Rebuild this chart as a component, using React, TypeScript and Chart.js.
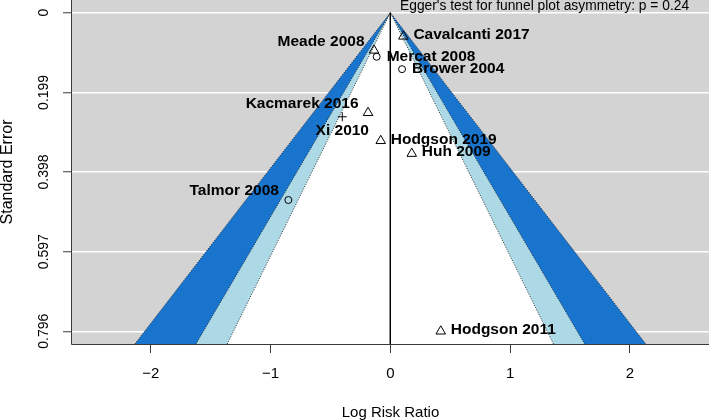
import React, { useEffect, useRef } from "react";
import { Chart, registerables } from "chart.js";

Chart.register(...registerables);

// ---- data ----
const studies = [
  "Cavalcanti 2017",
  "Meade 2008",
  "Mercat 2008",
  "Brower 2004",
  "Kacmarek 2016",
  "Xi 2010",
  "Hodgson 2019",
  "Huh 2009",
  "Talmor 2008",
  "Hodgson 2011",
];
const logRR = [0.109, -0.136, -0.114, 0.098, -0.186, -0.401, -0.08, 0.179, -0.851, 0.421];
const stdErr = [0.059, 0.094, 0.11, 0.141, 0.25, 0.26, 0.32, 0.352, 0.468, 0.796];
const markers = ["triangle", "triangle", "circle", "circle", "triangle", "cross", "triangle", "triangle", "circle", "triangle"];
const labelSide = ["right", "left", "right", "right", "left", "below", "right", "right", "left", "right"];

const xTickValues = [-2, -1, 0, 1, 2];
const yTickValues = [0, 0.199, 0.398, 0.597, 0.796];
const contourZ = [2.576, 1.96, 1.645]; // 99%, 95%, 90%
const contourColors = ["#1874CD", "#ADD8E6", "#FFFFFF"];
const refLine = 0;
const eggerText = "Egger's test for funnel plot asymmetry: p = 0.24";
const xTitle = "Log Risk Ratio";
const yTitle = "Standard Error";

const X_MIN = -2.657;
const X_MAX = 2.66;
const Y_MIN = -0.0318;
const Y_MAX = 0.8278;

const FONT = '"Liberation Sans", Arial, Helvetica, sans-serif';

const markerRadius: Record<string, number> = { triangle: 5.5, circle: 3.5, cross: 4.5 };

const fmtX = (v: number) => (v < 0 ? "\u2212" + Math.abs(v) : String(v));

const bgPlugin = {
  id: "bgPlugin",
  beforeDraw(chart: any) {
    const { ctx, chartArea } = chart;
    const { left, top, right, bottom } = chartArea;
    ctx.save();
    ctx.fillStyle = "#D3D3D3";
    ctx.fillRect(left, top, right - left, bottom - top);
    ctx.restore();
  },
};

const overlayPlugin = {
  id: "overlayPlugin",
  afterDatasetsDraw(chart: any) {
    const { ctx, chartArea, scales } = chart;
    const { left, top, right, bottom } = chartArea;
    const ys = scales.y;
    ctx.save();
    // axis lines
    ctx.strokeStyle = "#3a3a3a";
    ctx.lineWidth = 1;
    ctx.beginPath();
    ctx.moveTo(left - 0.5, top);
    ctx.lineTo(left - 0.5, bottom + 0.5);
    ctx.lineTo(right, bottom + 0.5);
    ctx.stroke();

    // y tick labels (rotated, parallel to axis)
    ctx.fillStyle = "#000";
    ctx.font = `14px ${FONT}`;
    ctx.textAlign = "center";
    ctx.textBaseline = "middle";
    yTickValues.forEach((v) => {
      const py = ys.getPixelForValue(v);
      ctx.save();
      ctx.translate(44, py);
      ctx.rotate(-Math.PI / 2);
      ctx.fillText(String(v), 0, 0);
      ctx.restore();
    });

    // study labels
    const meta = chart.getDatasetMeta(chart.data.datasets.length - 1);
    ctx.font = `bold 15.5px ${FONT}`;
    ctx.fillStyle = "#000";
    meta.data.forEach((pt: any, i: number) => {
      const side = labelSide[i];
      const tri = markers[i] === "triangle" ? -1.5 : 0;
      if (side === "right") {
        ctx.textAlign = "left";
        ctx.textBaseline = "middle";
        ctx.fillText(studies[i], pt.x + 10, pt.y + tri);
      } else if (side === "left") {
        ctx.textAlign = "right";
        ctx.textBaseline = "middle";
        ctx.fillText(studies[i], pt.x - 9.5, pt.y - 9);
      } else {
        ctx.textAlign = "center";
        ctx.textBaseline = "middle";
        ctx.fillText(studies[i], pt.x, pt.y + 13.5);
      }
    });

    // Egger's test annotation
    ctx.font = `13.8px ${FONT}`;
    ctx.textAlign = "left";
    ctx.textBaseline = "alphabetic";
    ctx.fillText(eggerText, 400, 10);
    ctx.restore();
  },
};

export default function App() {
  const canvasRef = useRef<HTMLCanvasElement | null>(null);

  useEffect(() => {
    if (!canvasRef.current) return;

    const contourSets = contourZ.map((z, i) => ({
      type: "scatter" as const,
      label: `contour ${z}`,
      data: [
        { x: refLine - z * Y_MAX, y: Y_MAX },
        { x: refLine, y: 0 },
        { x: refLine + z * Y_MAX, y: Y_MAX },
      ],
      showLine: true,
      fill: { value: Y_MAX },
      backgroundColor: contourColors[i],
      borderColor: "rgba(20,20,20,0.85)",
      borderWidth: 1,
      borderDash: [1, 1.5],
      pointRadius: 0,
      tension: 0,
      order: 10 - i,
    }));

    const refSet = {
      type: "scatter" as const,
      label: "ref",
      data: [
        { x: refLine, y: 0 },
        { x: refLine, y: Y_MAX },
      ],
      showLine: true,
      fill: false,
      borderColor: "#000",
      borderWidth: 1,
      pointRadius: 0,
      order: 2,
    };

    const pointSet = {
      type: "scatter" as const,
      label: "studies",
      data: logRR.map((x, i) => ({ x, y: stdErr[i] })),
      pointStyle: markers,
      pointRadius: markers.map((m) => markerRadius[m]),
      pointBackgroundColor: "rgba(0,0,0,0)",
      pointBorderColor: "#000",
      pointBorderWidth: 1,
      showLine: false,
      order: 1,
    };

    const chart = new Chart(canvasRef.current, {
      type: "scatter",
      data: { datasets: [...contourSets, refSet, pointSet] as any },
      options: {
        responsive: false,
        animation: false,
        devicePixelRatio: 1,
        events: [],
        layout: { padding: 0, autoPadding: false },
        plugins: {
          legend: { display: false },
          tooltip: { enabled: false },
          title: { display: false },
        },
        scales: {
          x: {
            type: "linear",
            min: X_MIN,
            max: X_MAX,
            afterBuildTicks: (scale: any) => {
              scale.ticks = xTickValues.map((v) => ({ value: v }));
            },
            afterFit: (scale: any) => {
              scale.height = 76;
              scale.paddingLeft = 0;
              scale.paddingRight = 0;
              scale.paddingTop = 0;
              scale.paddingBottom = 0;
            },
            grid: {
              display: true,
              drawOnChartArea: false,
              drawTicks: true,
              tickLength: 9,
              tickColor: "#3a3a3a",
              tickWidth: 1,
            },
            border: { display: false },
            ticks: {
              color: "#000",
              font: { family: FONT, size: 15 },
              padding: 12,
              maxRotation: 0,
              callback: (v: any) => fmtX(Number(v)),
            },
            title: {
              display: true,
              text: xTitle,
              color: "#000",
              font: { family: FONT, size: 15, lineHeight: 1 },
              padding: { top: 0, bottom: 0 },
            },
          },
          y: {
            type: "linear",
            reverse: true,
            min: Y_MIN,
            max: Y_MAX,
            afterBuildTicks: (scale: any) => {
              scale.ticks = yTickValues.map((v) => ({ value: v }));
            },
            afterFit: (scale: any) => {
              scale.width = 72;
              scale.paddingLeft = 0;
              scale.paddingRight = 0;
              scale.paddingTop = 0;
              scale.paddingBottom = 0;
            },
            grid: {
              display: true,
              drawOnChartArea: true,
              color: "#FFFFFF",
              lineWidth: 1.5,
              drawTicks: true,
              tickLength: 9,
              tickColor: "#3a3a3a",
              tickWidth: 1,
            },
            border: { display: false },
            ticks: { display: false },
            title: {
              display: true,
              text: yTitle,
              color: "#000",
              font: { family: FONT, size: 16, lineHeight: 1 },
              padding: { top: 0, bottom: 0 },
            },
          },
        },
      },
      plugins: [bgPlugin, overlayPlugin],
    } as any);

    return () => chart.destroy();
  }, []);

  return (
    <div style={{ position: "fixed", left: 0, top: 0, width: 709, height: 420, background: "#fff" }}>
      <canvas ref={canvasRef} width={709} height={420} style={{ width: 709, height: 420, display: "block" }} />
    </div>
  );
}
